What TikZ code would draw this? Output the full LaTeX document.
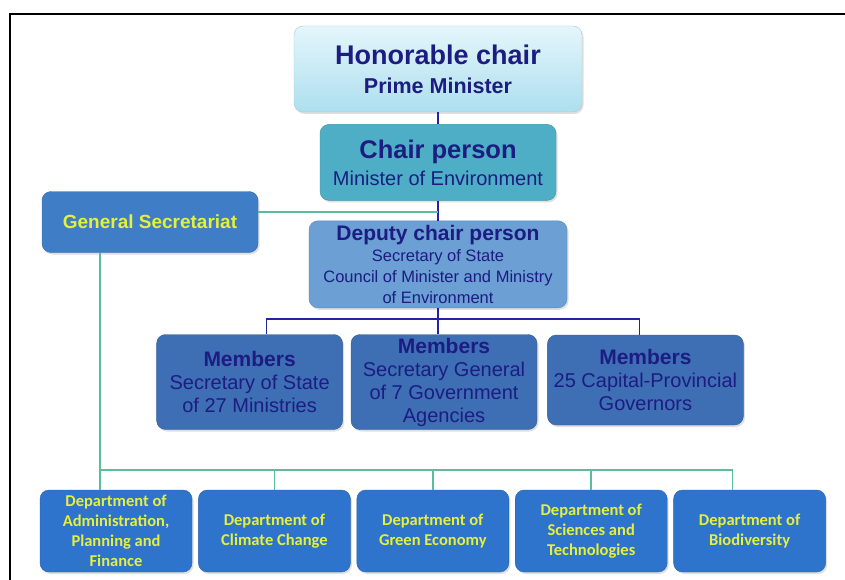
\documentclass[tikz,border=0pt]{standalone}
\usepackage{fontspec}
\setmainfont{Liberation Sans}
\newfontfamily\deptfont{Carlito}
\usepackage{xcolor}
\usetikzlibrary{positioning, shadows}

\definecolor{navytext}{HTML}{1C1C82}
\definecolor{navyline}{HTML}{2323A8}
\definecolor{greenline}{HTML}{5CBE98}
\definecolor{lemon}{HTML}{E4F03C}
\definecolor{honortop}{HTML}{E4F6FB}
\definecolor{honorbottom}{HTML}{ADDFEE}
\definecolor{chairfill}{HTML}{4EAEC6}
\definecolor{secfill}{HTML}{3F7EC7}
\definecolor{deputyfill}{HTML}{6C9FD4}
\definecolor{memberfill}{HTML}{3E6FB4}
\definecolor{deptfill}{HTML}{2E73CC}

\begin{document}
\begin{tikzpicture}[x=1pt, y=-1pt, node distance=6pt,
  box/.style={rounded corners=9pt, align=center, text=navytext, inner sep=2pt,
    drop shadow={opacity=0.25, shadow xshift=1.5pt, shadow yshift=-2pt}},
  member/.style={box, fill=memberfill, draw=memberfill!85!black, minimum width=186pt, minimum height=95pt,
    font=\fontsize{20}{23}\selectfont},
  dept/.style={box, fill=deptfill, draw=deptfill!85!black, text=lemon, minimum width=152pt, minimum height=82pt,
    font=\deptfont\bfseries\fontsize{16.5}{20}\selectfont},
  navy/.style={draw=navyline, line width=1.6pt},
  green/.style={draw=greenline, line width=1.6pt}]

  \useasboundingbox (0,0) rectangle (845,580);
  \fill[white] (0,0) rectangle (845,580);
  % frame
  \draw[line width=2pt] (10,580) -- (10,14) -- (845,14);

  % top of the chart
  \node (hon) [box, top color=honortop, bottom color=honorbottom, draw=honorbottom!80!gray,
    minimum width=288pt, minimum height=86pt, font=\fontsize{21.5}{29}\selectfont] at (438,69)
    {{\fontsize{27}{29}\selectfont\bfseries Honorable chair}\\
     {\bfseries Prime Minister}};
  \node (chair) [box, fill=chairfill, draw=chairfill!85!black, minimum width=236pt, minimum height=76pt,
    below=12pt of hon, font=\fontsize{20}{27}\selectfont]
    {{\fontsize{25.5}{27}\selectfont\bfseries Chair person}\\
     Minister of Environment};
  \node (deputy) [box, fill=deputyfill, draw=deputyfill!85!black, minimum width=258pt, minimum height=87pt,
    below=20pt of chair, font=\fontsize{16.5}{21}\selectfont]
    {{\fontsize{21}{21}\selectfont\bfseries Deputy chair person}\\
     Secretary of State\\ Council of Minister and Ministry\\ of Environment};
  \node (gensec) [box, fill=secfill, draw=secfill!85!black, text=lemon, minimum width=216pt, minimum height=61pt,
    font=\fontsize{19}{22}\selectfont\bfseries] at (150,222) {General Secretariat};

  % members row
  \node (mem2) [member] at (444,382)
    {{\fontsize{21}{23}\selectfont\bfseries Members}\\ Secretary General\\ of 7 Government\\ Agencies};
  \node (mem1) [member, left=8pt of mem2]
    {{\fontsize{21}{23}\selectfont\bfseries Members}\\ Secretary of State\\ of 27 Ministries};
  \node (mem3) [member, right=10pt of mem2, minimum width=196pt, minimum height=90pt, yshift=2pt]
    {{\fontsize{21}{23}\selectfont\bfseries Members}\\ 25 Capital-Provincial\\ Governors};

  % departments row
  \node (d1) [dept] at (116,531) {Department of\\ Administration,\\ Planning and\\ Finance};
  \node (d2) [dept, right=of d1] {Department of\\ Climate Change};
  \node (d3) [dept, right=of d2] {Department of\\ Green Economy};
  \node (d4) [dept, right=of d3] {Department of\\ Sciences and\\ Technologies};
  \node (d5) [dept, right=of d4] {Department of\\ Biodiversity};

  % navy lines
  \draw[navy] (hon.south) -- (chair.north);
  \draw[navy] (chair.south) -- (deputy.north);
  \draw[navy] (deputy.south) -- ++(0,11) coordinate (membus);
  \draw[navy] ([xshift=17pt]mem1.north) |- (membus) -| ([xshift=-6pt]mem3.north);
  \draw[navy] (membus) -- (membus |- mem2.north);

  % green lines
  \coordinate (secjoin) at (438,212);
  \draw[green] (gensec.east |- secjoin) -- (secjoin);
  \draw[green] ([xshift=-50pt]gensec.south) -- ([xshift=-50pt]gensec.south |- d1.north);
  \coordinate (deptbus) at (100,470);
  \draw[green] (deptbus) -| ([xshift=-17pt]d5.north);
  \foreach \d in {d2,d3,d4}
    \draw[green] (deptbus -| \d.north) -- (\d.north);

\end{tikzpicture}
\end{document}
